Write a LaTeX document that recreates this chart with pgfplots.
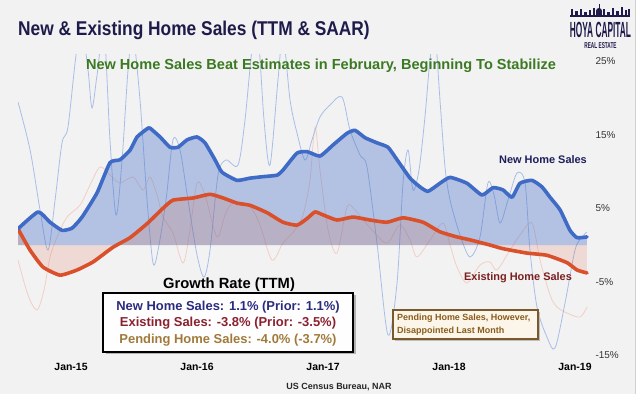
\documentclass[border=0pt]{standalone}
\usepackage{fontspec}
\setmainfont{Liberation Sans}
\usepackage{graphicx}
\usepackage{pgfplots}
\usepackage{pgfplotstable}
\pgfplotsset{compat=1.18}

\definecolor{bg}{HTML}{F2F2F2}
\definecolor{tnavy}{HTML}{1E1B4B}
\definecolor{nblue}{HTML}{3F6BC6}
\definecolor{ered}{HTML}{D9502B}
\definecolor{lblue}{HTML}{A8BEE9}
\definecolor{lpink}{HTML}{F2CEC5}
\definecolor{sgreen}{HTML}{3B7A22}
\definecolor{boxnavy}{HTML}{2B2B80}
\definecolor{boxred}{HTML}{8A2030}
\definecolor{boxgold}{HTML}{A07A3A}
\definecolor{lblnavy}{HTML}{1D1D5C}
\definecolor{lblred}{HTML}{7B1F1F}
\definecolor{pbrown}{HTML}{7A5A2A}
\definecolor{ptext}{HTML}{8A5C1A}
\definecolor{pcream}{HTML}{FBF5EA}

% New home sales, TTM growth (%)
\pgfplotstableread{
m v
-5.05 2.2
-3.14 4.5
-2.00 3.1
-0.86 2.0
0.10 2.3
1.05 3.8
2.48 7.1
3.71 11.2
4.67 11.6
5.62 12.9
6.29 14.7
7.24 15.8
7.52 15.9
8.48 14.7
9.43 13.3
10.19 13.3
11.05 14.3
12.00 14.7
12.76 13.9
13.71 11.6
14.38 9.9
15.81 8.8
17.05 9.1
18.29 9.3
19.62 9.5
20.19 10.2
21.52 12.5
22.48 12.7
23.71 12.1
24.95 13.6
26.29 15.2
27.05 15.6
28.00 14.6
29.14 13.9
30.19 13.3
31.05 11.6
32.29 9.1
33.24 7.9
34.00 7.3
35.14 8.4
36.10 9.2
37.71 8.4
39.14 6.8
40.19 7.8
41.14 7.5
42.00 6.5
42.76 8.4
43.90 8.8
44.86 7.9
45.62 6.5
46.57 4.8
47.52 2.0
48.19 1.0
49.14 1.1
}\newtab

% Existing home sales, TTM growth (%)
\pgfplotstableread{
m v
-5.05 2.2
-3.90 -0.7
-2.67 -3.0
-1.05 -4.1
0.57 -3.4
2.10 -2.3
4.00 -0.3
5.62 1.0
7.24 2.9
8.76 5.0
9.71 6.1
11.62 6.4
13.24 6.9
14.48 6.4
15.81 5.7
17.05 5.4
18.67 4.4
20.19 3.1
21.52 2.7
22.48 3.6
23.24 4.5
24.00 4.1
25.33 3.4
26.86 3.8
28.48 3.4
30.10 3.1
31.62 3.7
33.52 3.1
35.14 1.8
36.76 1.1
38.00 0.7
39.90 0.0
41.14 -0.5
43.43 -1.1
45.33 -1.4
47.24 -2.4
48.19 -3.4
49.14 -3.8
}\extab

% New home sales, monthly SAAR growth (%)
\pgfplotstableread{
m v
-5.05 19.46
-3.90 12.93
-2.95 4.76
-2.19 -0.68
-1.52 6.12
-0.86 13.88
-0.29 16.05
0.48 25.85
1.05 29.25
1.62 23.81
2.00 18.64
2.48 23.13
3.14 29.25
3.71 14.29
4.29 4.08
4.86 11.56
5.43 23.81
5.90 28.57
6.57 19.73
7.24 6.12
7.81 -2.45
8.29 -0.68
9.05 6.12
9.71 14.29
10.38 12.93
11.14 6.12
12.00 -1.36
12.67 -4.35
13.24 -0.68
14.00 9.52
14.76 11.56
15.90 10.88
16.57 17.01
17.24 26.53
17.81 28.57
18.38 17.01
18.95 10.88
19.71 22.45
20.19 28.57
20.86 19.73
21.52 15.24
22.29 11.56
22.95 14.29
23.71 17.41
24.67 19.05
25.81 20.14
26.57 15.65
27.52 12.24
28.19 10.61
29.14 0.27
30.19 -12.24
31.05 -5.17
31.62 8.44
32.10 12.93
32.57 7.48
33.14 10.20
33.71 17.41
34.19 25.17
34.67 28.57
35.14 19.73
35.62 10.61
36.10 6.12
37.05 1.36
38.00 -1.63
38.95 1.09
39.71 8.44
40.29 6.80
40.86 2.99
41.62 6.12
42.48 9.80
43.24 8.44
43.71 -0.68
44.38 -8.44
45.33 -12.52
46.10 -14.01
47.05 -7.89
48.00 -0.68
48.67 1.09
49.14 1.77
}\nbmonthly

% Pending / existing monthly growth (%)
\pgfplotstableread{
m v
-5.05 -2.04
-4.10 -6.80
-3.24 -8.84
-2.57 -6.12
-2.00 -1.63
-1.24 1.36
-0.38 3.81
0.86 5.44
1.81 8.16
2.76 10.61
3.71 9.52
4.67 8.44
5.90 9.25
6.86 7.48
7.52 9.25
8.19 6.80
8.76 3.81
9.71 1.63
10.67 -2.45
11.33 2.04
12.00 8.44
12.76 6.80
13.90 1.09
14.67 4.08
15.43 5.71
17.05 5.17
18.00 2.72
19.14 -2.04
20.19 0.27
21.33 2.04
22.10 4.08
22.76 8.84
23.24 16.05
23.71 10.20
24.48 2.04
25.33 -1.09
26.29 5.17
27.05 4.76
28.67 2.04
30.10 0.27
31.33 2.72
32.29 0.68
32.95 -1.63
34.19 0.68
35.43 2.99
36.10 0.00
36.76 -2.99
37.71 -5.17
38.95 -2.72
39.90 -2.31
40.57 -3.40
41.81 -0.68
42.76 1.36
43.90 2.99
44.67 -2.04
45.62 -6.80
46.29 -8.44
47.24 -9.25
48.48 -9.80
49.14 -8.44
}\pdmonthly

\begin{document}
\begin{tikzpicture}
\useasboundingbox (0bp,0bp) rectangle (640bp,394bp);
\fill[bg] (0bp,0bp) rectangle (640bp,394bp);
\fill[white] (636bp,0bp) rectangle (640bp,394bp);
\draw[black!18,line width=0.6bp] (635.5bp,0bp) -- (635.5bp,394bp);

\begin{axis}[
  at={(18bp,36bp)}, anchor=south west,
  scale only axis, width=574bp, height=303bp,
  xmin=-5.05, xmax=49.62, ymin=-15.37, ymax=25.85,
  axis line style={draw=none}, major tick length=0pt,
  xtick={0,12,24,36,48},
  xticklabels={Jan-15,Jan-16,Jan-17,Jan-18,Jan-19},
  xticklabel style={font=\fontsize{10.5}{12}\selectfont\bfseries, yshift=-2bp},
  ytick={-15,-5,5,15,25},
  yticklabels={-15\%,-5\%,5\%,15\%,25\%},
  yticklabel pos=right,
  yticklabel style={font=\fontsize{10}{12}\selectfont, text=black!80},
  clip=true,
]
\addplot[lpink, line width=0.8bp, smooth, tension=0.5] table {\pdmonthly};
\addplot[lblue, line width=0.8bp, smooth, tension=0.5] table {\nbmonthly};

\addplot[fill=nblue, fill opacity=0.35, draw=none] table {\newtab} \closedcycle;
\addplot[fill=ered, fill opacity=0.15, draw=none] table {\extab} \closedcycle;

\addplot[ered, line width=3.6bp, line join=round, line cap=round, smooth, tension=0.3] table {\extab};
\addplot[nblue, line width=3.6bp, line join=round, line cap=round, smooth, tension=0.3] table {\newtab};
\end{axis}

\begin{scope}[x=1bp,y=1bp]
% title
\node[anchor=west, text=tnavy, inner sep=0] at (18,364)
  {\scalebox{0.87}[1]{\fontsize{20}{20}\selectfont\bfseries New \& Existing Home Sales (TTM \& SAAR)}};

% logo
\fill[tnavy] (570,377) rectangle (630,379.2);
\foreach \a/\b/\h in {571/573/385,575/578/382.5,580/582/384.5,584/587/381.5,589/591/383.5,593/595/386,603/605/384.5,607/610/382,612/614/385.5,616/619/383,621/623/386.5,625/627/383.5,628/630/385}{
  \fill[tnavy] (\a,378) rectangle (\b,\h);
}
\fill[tnavy] (596,378) rectangle (602,383);
\fill[tnavy] (599,383) circle (3);
\fill[tnavy] (598.5,385) rectangle (599.5,389.5);
\node[text=tnavy, inner sep=0] at (600.5,364)
  {\scalebox{0.38}[1]{\fontsize{22}{22}\selectfont\bfseries HOYA CAPITAL}};
\node[text=tnavy, inner sep=0] at (600.5,348)
  {\scalebox{0.56}[1]{\fontsize{8.5}{8.5}\selectfont\bfseries REAL ESTATE}};

% subtitle
\node[text=sgreen, inner sep=0] at (321,328)
  {\fontsize{14.6}{16}\selectfont\bfseries New Home Sales Beat Estimates in February, Beginning To Stabilize};

% series labels
\node[text=lblnavy, inner sep=0] at (543,234) {\fontsize{11}{12}\selectfont\bfseries New Home Sales};
\node[text=lblred, inner sep=0] at (518,116) {\fontsize{11}{12}\selectfont\bfseries Existing Home Sales};

% growth rate box
\node[text=black, inner sep=0] at (229,109) {\fontsize{14.8}{16}\selectfont\bfseries Growth Rate (TTM)};
\fill[black!30] (105.5,39.5) rectangle (355.5,98.5);
\draw[black, line width=1.5bp, fill=white!96!bg] (103,42) rectangle (353,101);
\node[text=boxnavy, inner sep=0] at (228,87) {\fontsize{13}{14}\selectfont\bfseries New Home Sales: 1.1\% (Prior: 1.1\%)};
\node[text=boxred, inner sep=0] at (228,71) {\fontsize{13}{14}\selectfont\bfseries Existing Sales: -3.8\% (Prior: -3.5\%)};
\node[text=boxgold, inner sep=0] at (228,54) {\fontsize{13}{14}\selectfont\bfseries Pending Home Sales: -4.0\% (-3.7\%)};

% pending note
\fill[black!25] (395,53) rectangle (540,82);
\draw[pbrown, line width=1.6bp, fill=pcream] (393,55) rectangle (538,84);
\node[text=ptext, inner sep=0, anchor=west] at (397,76) {\fontsize{9}{10}\selectfont\bfseries Pending Home Sales, However,};
\node[text=ptext, inner sep=0, anchor=west] at (397,63) {\fontsize{9}{10}\selectfont\bfseries Disappointed Last Month};

% source
\node[text=black!85, inner sep=0] at (339,7) {\fontsize{9}{10}\selectfont\bfseries US Census Bureau, NAR};
\end{scope}
\end{tikzpicture}
\end{document}
